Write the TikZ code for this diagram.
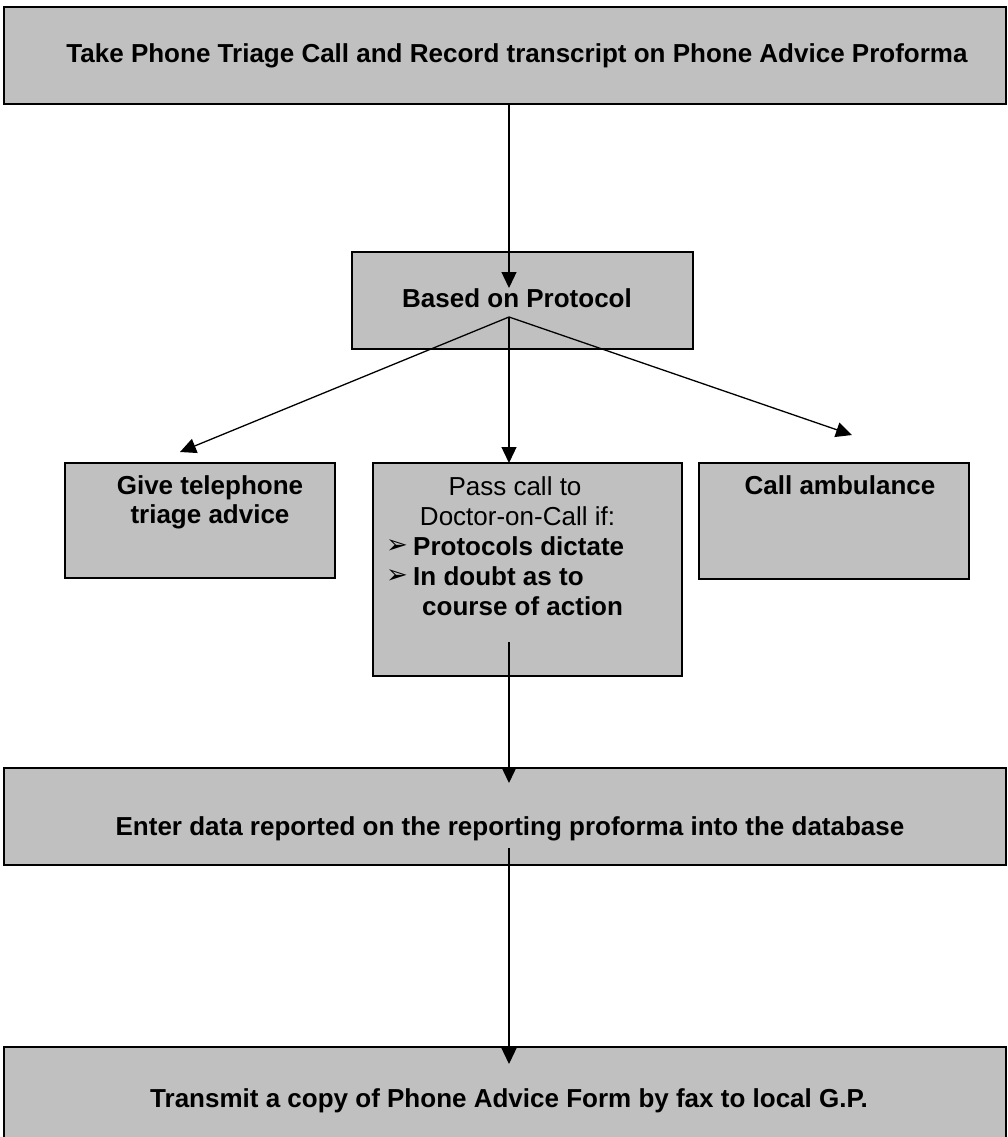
\documentclass[tikz,border=0pt]{standalone}
\usepackage{fontspec}
\setmainfont{Liberation Sans}
\newfontfamily\symfont{DejaVu Sans}
\usetikzlibrary{arrows.meta}
\definecolor{boxgray}{HTML}{C0C0C0}
\tikzset{
  box/.style={draw=black, line width=1.8pt, fill=boxgray, rectangle, inner sep=0pt},
  txt/.style={font=\fontsize{26}{30}\selectfont\bfseries, inner sep=0pt, anchor=base},
  rtxt/.style={font=\fontsize{26}{30}\selectfont, inner sep=0pt, anchor=base},
  bul/.style={font=\symfont\fontsize{26}{30}\selectfont, inner sep=0pt, anchor=base west},
  conn/.style={line width=1.3pt, -{Triangle[length=16pt,width=15pt]}}
}
\begin{document}
\begin{tikzpicture}[x=1pt,y=-1pt]
\useasboundingbox (0,0) rectangle (1008,1137);
% boxes
\node[box, minimum width=1002pt, minimum height=97pt] (top) at (505,55.5) {};
\node[box, minimum width=341pt, minimum height=97pt] (proto) at (522.5,300.5) {};
\node[box, minimum width=270pt, minimum height=115pt] (advice) at (200,520.5) {};
\node[box, minimum width=309pt, minimum height=213pt] (doctor) at (527.5,569.5) {};
\node[box, minimum width=270pt, minimum height=116pt] (amb) at (834,521) {};
\node[box, minimum width=1002pt, minimum height=97pt] (enter) at (505,816.5) {};
\node[box, minimum width=1002pt, minimum height=100pt] (fax) at (505,1097) {};
% texts
\node[txt] (ttop) at (517,63) {Take Phone Triage Call and Record transcript on Phone Advice Proforma};
\node[txt] (tproto) at (517,307) {Based on Protocol};
\node[txt] (tadv1) at (210,494) {Give telephone};
\node[txt] (tadv2) at (210,523) {triage advice};
\node[txt] (tamb) at (840,494) {Call ambulance};
\node[rtxt] (tdoc1) at (515,495) {Pass call to};
\node[rtxt] (tdoc2) at (517.5,525) {Doctor-on-Call if:};
\node[bul] (b1) at (386,553) {➢};
\node[txt, anchor=base west] (tdoc3) at (413,555) {Protocols dictate};
\node[bul] (b2) at (386,583) {➢};
\node[txt, anchor=base west] (tdoc4) at (413,585) {In doubt as to};
\node[txt, anchor=base west] (tdoc5) at (422,615) {course of action};
\node[txt] (tenter) at (510,835) {Enter data reported on the reporting proforma into the database};
\node[txt] (tfax) at (509,1107) {Transmit a copy of Phone Advice Form by fax to local G.P.};
% connector points
\coordinate (s1) at (509,104);
\coordinate (e1) at (509,288);
\coordinate (hub) at (509,317);
\coordinate (eL) at (180,452);
\coordinate (eM) at (509,463);
\coordinate (eR) at (852,435);
\coordinate (s2) at (509,642);
\coordinate (e2) at (509,783);
\coordinate (s3) at (509,848);
\coordinate (e3) at (509,1064);
% connectors
\draw[conn] (s1) -- (e1);
\draw[conn] (hub) -- (eL);
\draw[conn] (hub) -- (eM);
\draw[conn] (hub) -- (eR);
\draw[conn] (s2) -- (e2);
\draw[conn] (s3) -- (e3);
\end{tikzpicture}
\end{document}
